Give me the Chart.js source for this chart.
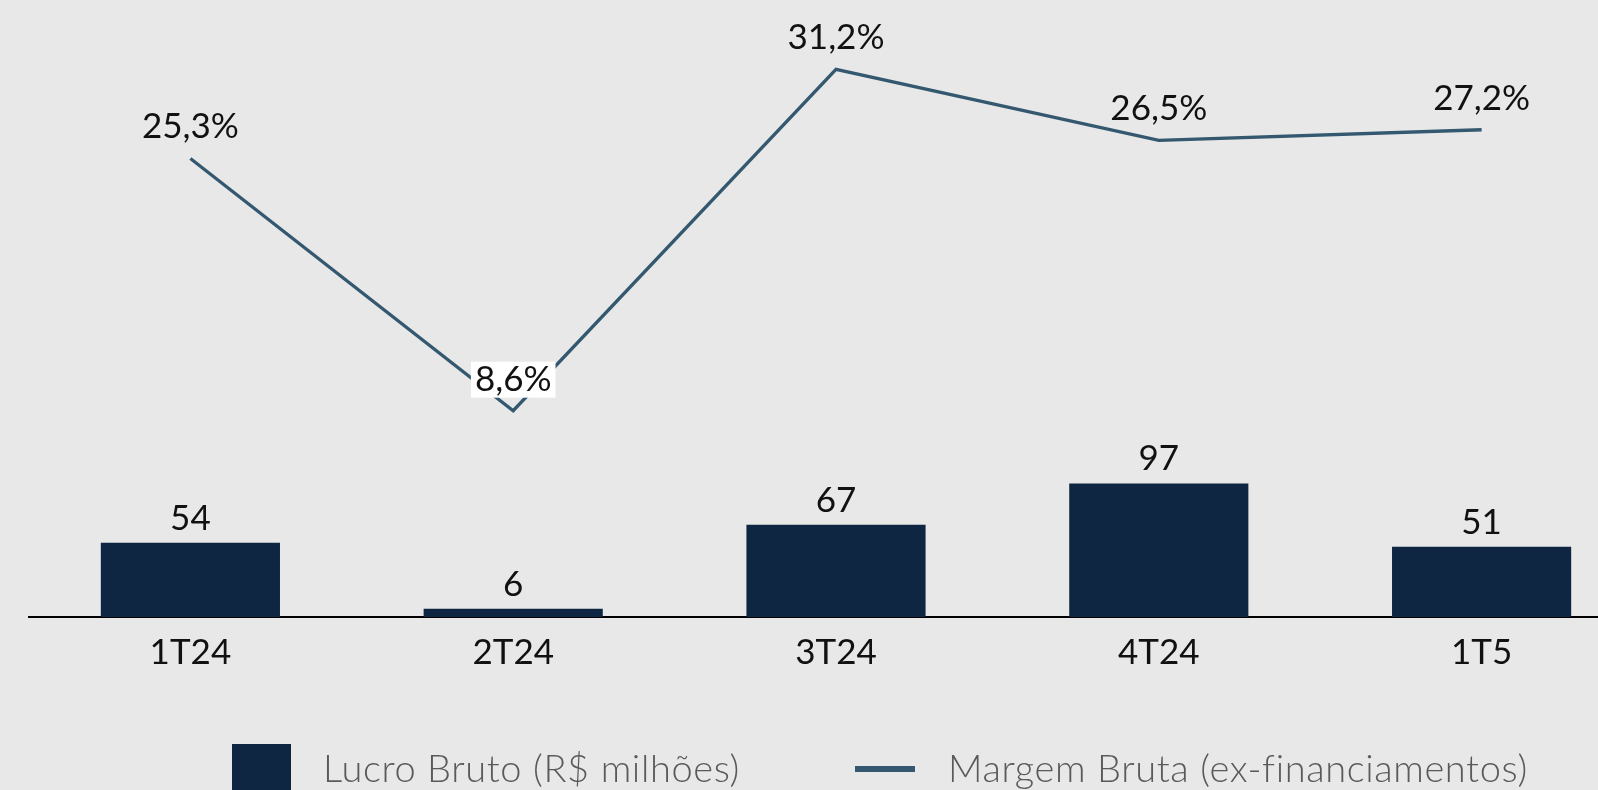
<!DOCTYPE html>
<html>
<head>
<meta charset="utf-8">
<script src="https://cdn.jsdelivr.net/npm/chart.js@4.4.1/dist/chart.umd.min.js"></script>
<style>
    html, body {
        margin: 0;
        padding: 0;
        width: 1598px;
        height: 790px;
        overflow: hidden;
        background: #e8e8e8;
        font-family: Lato, "DejaVu Sans", sans-serif;
    }
    #wrap {
        position: absolute;
        left: 0;
        top: 0;
        width: 1643px;
        height: 790px;
    }
    .legend {
        position: absolute;
        top: 744px;
        left: 0;
        width: 1598px;
        height: 46px;
    }
    .legend .box {
        position: absolute;
        left: 232px;
        top: 0;
        width: 59px;
        height: 60px;
        background: #0f2643;
    }
    .legend .line {
        position: absolute;
        left: 855px;
        top: 22px;
        width: 60px;
        height: 6px;
        background: #34586f;
    }
    .legend span {
        position: absolute;
        top: 4px;
        font-size: 38px;
        font-weight: 300;
        letter-spacing: 0.6px;
        line-height: 1;
        color: #5a5a5a;
        white-space: nowrap;
    }
</style>
</head>
<body>
<div id="wrap"><canvas id="grossChart"></canvas></div>
<div class="legend">
    <div class="box"></div>
    <span style="left:323px">Lucro Bruto (R$ milhões)</span>
    <div class="line"></div>
    <span style="left:948px">Margem Bruta (ex-financiamentos)</span>
</div>
<script>
'use strict';

var quarters = ['1T24', '2T24', '3T24', '4T24', '1T5'];
var lucroBruto = [54, 6, 67, 97, 51];
var margemBruta = [25.3, 8.6, 31.2, 26.5, 27.2];

var barColor = '#0f2643';
var lineColor = '#34586f';
var labelFont = '35px Lato, "DejaVu Sans", sans-serif';

// draws the value labels above bars and line points
var valueLabels = {
    id: 'valueLabels',
    afterDatasetsDraw: function (chart) {
        var ctx = chart.ctx;
        ctx.save();
        ctx.font = labelFont;
        ctx.textAlign = 'center';
        ctx.textBaseline = 'alphabetic';

        chart.getDatasetMeta(0).data.forEach(function (bar, i) {
            ctx.fillStyle = '#111';
            ctx.fillText(String(lucroBruto[i]), bar.x, bar.y - 13);
        });

        chart.getDatasetMeta(1).data.forEach(function (pt, i) {
            var txt = margemBruta[i].toFixed(1).replace('.', ',') + '%';
            var y = pt.y - 20;
            if (i === 1) {
                // the low point gets a white box behind its label
                var w = ctx.measureText(txt).width + 8;
                ctx.fillStyle = '#fff';
                ctx.fillRect(pt.x - w / 2, y - 29, w, 36);
            }
            ctx.fillStyle = '#111';
            ctx.fillText(txt, pt.x, y);
        });
        ctx.restore();
    }
};

var ctx = document.getElementById('grossChart').getContext('2d');
var grossChart = new Chart(ctx, {
    type: 'bar',
    data: {
        labels: quarters,
        datasets: [
            {
                type: 'bar',
                label: 'Lucro Bruto (R$ milhões)',
                data: lucroBruto,
                backgroundColor: barColor,
                yAxisID: 'y',
                barPercentage: 0.555,
                categoryPercentage: 1,
                order: 2
            },
            {
                type: 'line',
                label: 'Margem Bruta (ex-financiamentos)',
                data: margemBruta,
                borderColor: lineColor,
                borderWidth: 3.3,
                pointRadius: 0,
                tension: 0,
                fill: false,
                yAxisID: 'y1',
                order: 1
            }
        ]
    },
    options: {
        responsive: true,
        maintainAspectRatio: false,
        animation: false,
        layout: {
            padding: { left: 29, right: 0, top: 0, bottom: 0 }
        },
        plugins: {
            legend: { display: false },
            tooltip: { enabled: false }
        },
        scales: {
            x: {
                grid: { display: false, drawTicks: false },
                border: { display: true, color: '#000', width: 2 },
                ticks: {
                    color: '#111',
                    padding: 15,
                    font: { family: 'Lato, "DejaVu Sans", sans-serif', size: 35 }
                },
                afterFit: function (scale) {
                    scale.height = 173;
                }
            },
            y: {
                display: false,
                min: 0,
                max: 448
            },
            y1: {
                display: false,
                min: -5.06,
                max: 35.79
            }
        }
    },
    plugins: [valueLabels]
});
</script>
</body>
</html>
